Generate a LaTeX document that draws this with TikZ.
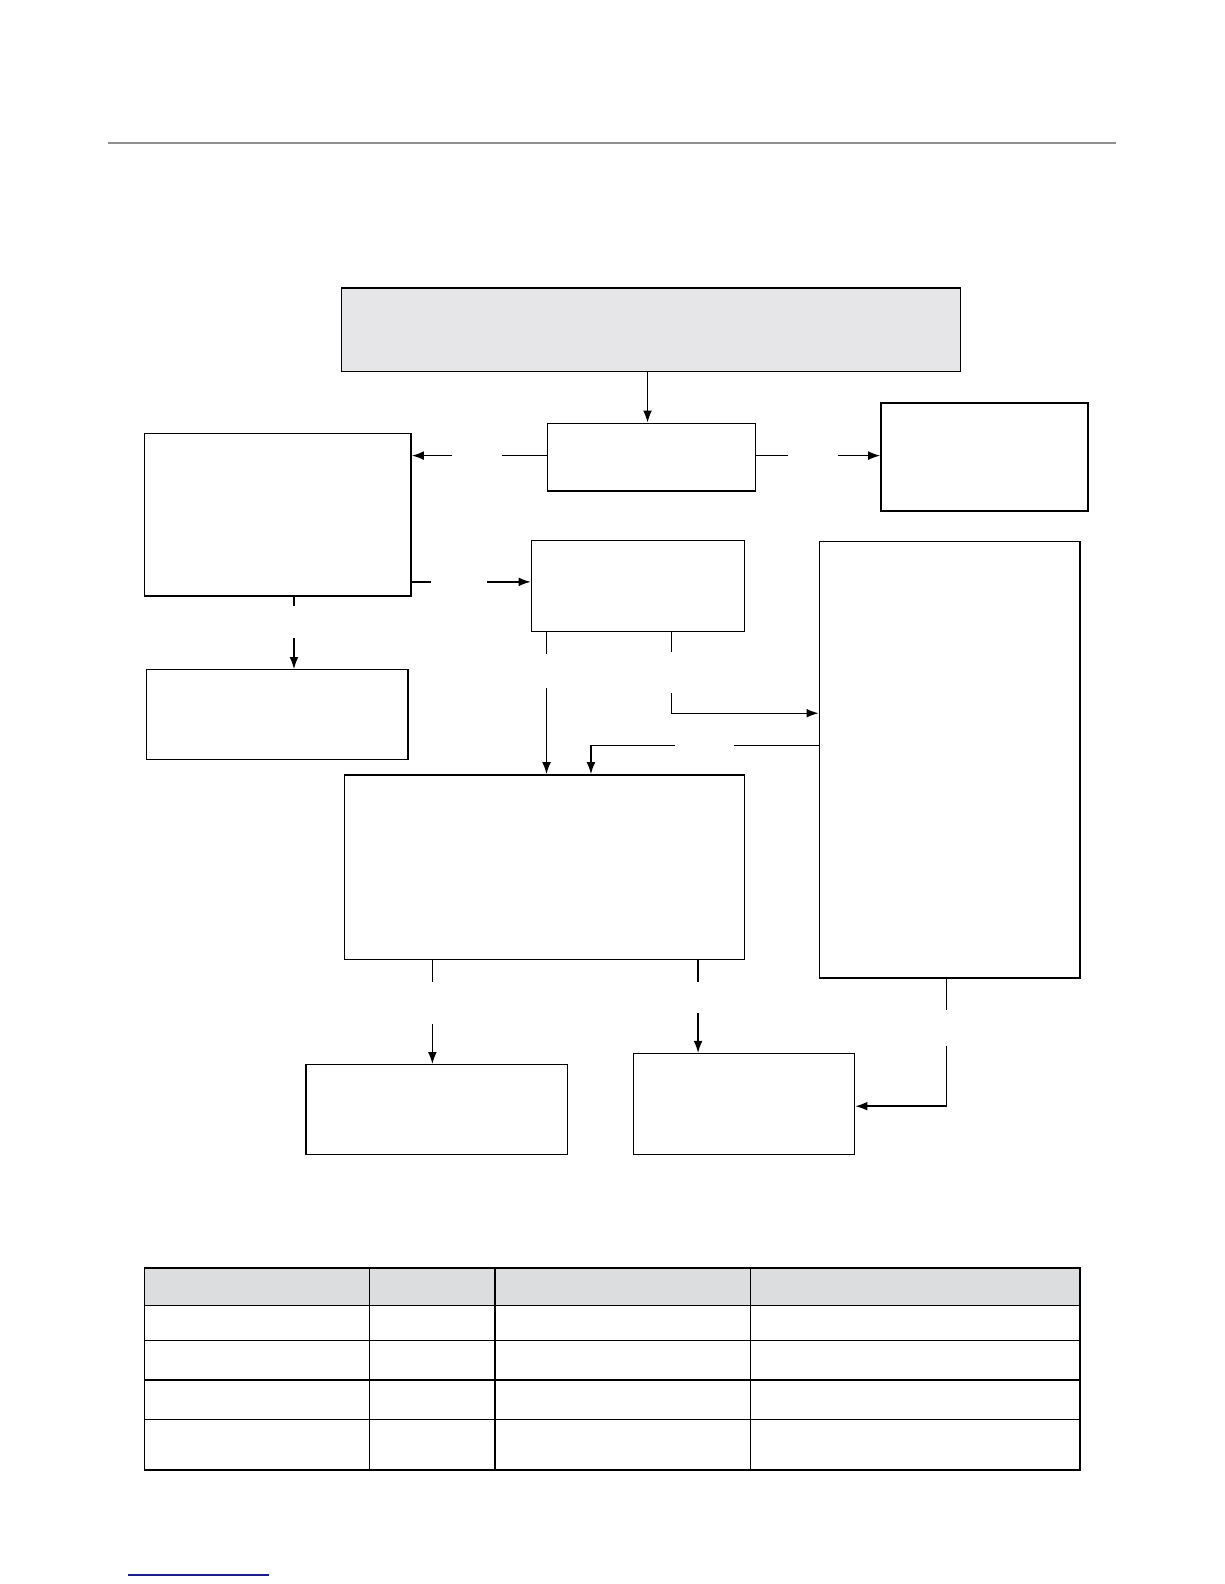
\documentclass[tikz,border=0pt]{standalone}
\usetikzlibrary{arrows.meta}
\definecolor{boxgray}{RGB}{230,230,232}
\definecolor{headgray}{RGB}{220,221,223}
\definecolor{rulegray}{RGB}{144,144,144}
\definecolor{linkblue}{RGB}{28,28,138}
\tikzset{
  box/.style 2 args={draw,line width=.7pt,inner sep=0pt,
    minimum width=#1*.505pt,minimum height=#2*.505pt},
  link/.style={line width=.7pt}
}
\begin{document}
\begin{tikzpicture}[x=.505pt,y=-.505pt,>={Latex[length=6pt,width=4.4pt]},
  line cap=butt,line join=miter]
\useasboundingbox (0,0) rectangle (1212,1568);
% page rules
\draw[rulegray,line width=1pt] (107,142) -- (1105,142);
\draw[linkblue,line width=.6pt] (127,1559) -- (266,1559);
% boxes
\node[box={613}{83},fill=boxgray] (top) at (644.5,326.5) {};
\node[box={206}{67}] (cmd) at (645,452.5) {};
\node[box={205}{107}] (out) at (974.5,452.5) {};
\node[box={264}{161}] (left) at (275,509.5) {};
\node[box={211}{90}] (mid) at (631.5,580) {};
\node[box={259}{89}] (low) at (274.5,707.5) {};
\node[box={396}{183}] (core) at (539,858.5) {};
\node[box={258}{432}] (side) at (940,752) {};
\node[box={259}{89}] (resA) at (432.5,1098.5) {};
\node[box={219}{100}] (resB) at (736.5,1093) {};
% gap ends of the connectors
\coordinate (c1a) at (497,451);  \coordinate (c1b) at (447,451);
\coordinate (c2a) at (780,451);  \coordinate (c2b) at (830,451);
\coordinate (c3a) at (427,576);  \coordinate (c3b) at (482,576);
\coordinate (c4a) at (291,600);  \coordinate (c4b) at (291,632);
\coordinate (c5a) at (541,647);  \coordinate (c5b) at (541,681);
\coordinate (c6a) at (665,645);  \coordinate (c6b) at (665,686);
\coordinate (c7a) at (727,738);  \coordinate (c7b) at (668,738);
\coordinate (c8a) at (428,972);  \coordinate (c8b) at (428,1014);
\coordinate (c9a) at (691,972);  \coordinate (c9b) at (691,1003);
\coordinate (c10a) at (937,1000); \coordinate (c10b) at (937,1035);
% connectors
\draw[link,->] (top.south -| 641,0) -- (cmd.north -| 641,0);
\draw[link] (cmd.west |- c1a) -- (c1a);
\draw[link,->] (c1b) -- (c1b -| left.east);
\draw[link] (cmd.east |- c2a) -- (c2a);
\draw[link,->] (c2b) -- (c2b -| out.west);
\draw[link] (left.east |- c3a) -- (c3a);
\draw[link,->] (c3b) -- (c3b -| mid.west);
\draw[link] (left.south -| c4a) -- (c4a);
\draw[link,->] (c4b) -- (c4b |- low.north);
\draw[link] (mid.south -| c5a) -- (c5a);
\draw[link,->] (c5b) -- (c5b |- core.north);
\draw[link] (mid.south -| c6a) -- (c6a);
\draw[link,->] (c6b) |- (side.west |- 0,706);
\draw[link] (side.west |- c7a) -- (c7a);
\draw[link,->] (c7b) -| (585,0 |- core.north);
\draw[link] (core.south -| c8a) -- (c8a);
\draw[link,->] (c8b) -- (c8b |- resA.north);
\draw[link] (core.south -| c9a) -- (c9a);
\draw[link,->] (c9b) -- (c9b |- resB.north);
\draw[link] (side.south -| c10a) -- (c10a);
\draw[link,->] (c10b) |- (resB.east |- 0,1095);
% table
\fill[headgray] (143,1255) rectangle (1069,1292);
\draw[link] (143,1255) rectangle (1069,1455);
\foreach \y in {1292,1327,1366,1405}
  \draw[link] (143,\y) -- (1069,\y);
\foreach \x in {366,490,743}
  \draw[link] (\x,1255) -- (\x,1455);
\end{tikzpicture}
\end{document}
